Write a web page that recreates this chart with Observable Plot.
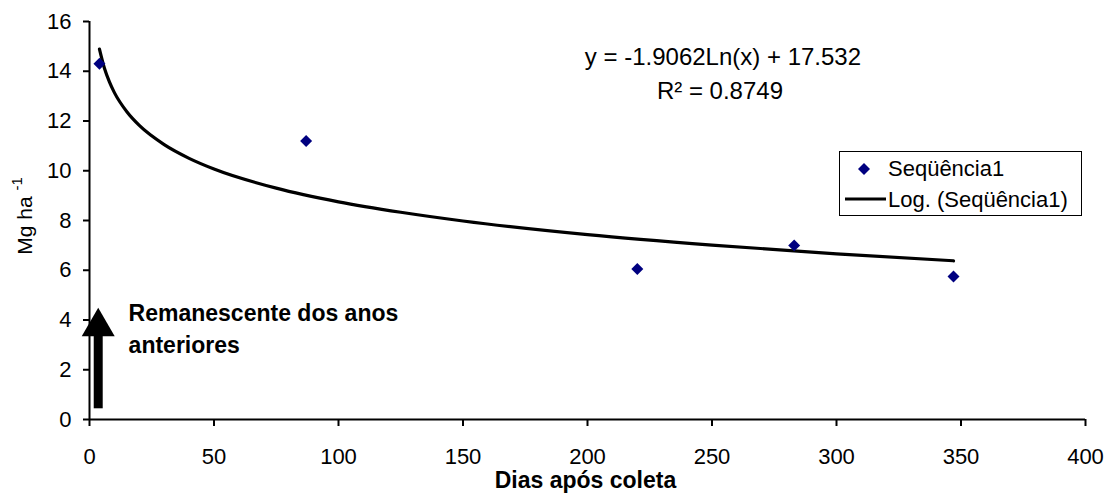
<!DOCTYPE html>
<html><head><meta charset="utf-8">
<script src="https://cdn.jsdelivr.net/npm/d3@7"></script>
<script src="https://cdn.jsdelivr.net/npm/@observablehq/plot@0.6"></script>
<style>
body{margin:0;background:#fff;}
#wrap{position:relative;width:1106px;height:500px;font-family:"Liberation Sans",Arial,sans-serif;color:#000;}
#wrap svg{display:block;}
.legend{position:absolute;left:839px;top:151px;width:243px;height:65px;border:1.5px solid #000;box-sizing:border-box;background:#fff;font-size:22px;}
.legend .item{position:absolute;left:48px;white-space:nowrap;line-height:1;}
.legend svg{position:absolute;left:0;}
</style></head><body><div id="wrap"></div>
<script>
// Observed points
const days = [4, 87, 220, 283, 347];
const mass = [14.3, 11.2, 6.05, 7.0, 5.75];
// Trend line
const trendDays = [4, 6, 8, 10, 15, 20, 30, 40, 50, 75, 100, 125, 150, 200, 250, 300, 347];
const trendMass = [14.89, 14.12, 13.57, 13.14, 12.37, 11.82, 11.05, 10.50, 10.07, 9.30, 8.75, 8.33, 7.98, 7.43, 7.01, 6.66, 6.38];
// Ticks
const xTicks = [0, 50, 100, 150, 200, 250, 300, 350, 400];
const yTicks = [0, 2, 4, 6, 8, 10, 12, 14, 16];
// Texts
const seriesName = "Seqüência1";
const trendName = "Log. (Seqüência1)";
const equationText = "y = -1.9062Ln(x) + 17.532";
const r2Text = "R² = 0.8749";
const xLabel = "Dias após coleta";
const yLabelMain = "Mg ha";
const yLabelSup = "-1";
const noteLines = ["Remanescente dos anos", "anteriores"];

const points = days.map((d, i) => ({d, m: mass[i]}));
const trend = trendDays.map((d, i) => ({d, m: trendMass[i]}));
const notes = noteLines.map((t, i) => ({t, i}));

const font = '"Liberation Sans", Arial, sans-serif';
const chart = Plot.plot({
  width: 1106, height: 500,
  marginLeft: 89, marginRight: 21, marginTop: 21, marginBottom: 81,
  style: {fontFamily: font, fontSize: "22px", color: "#000", background: "#fff", overflow: "visible"},
  x: {domain: [0, 400], label: null},
  y: {domain: [0, 16], label: null},
  marks: [
    Plot.axisX({ticks: xTicks, tickSize: 7, tickPadding: 22, strokeWidth: 2, label: null, tickFormat: d => String(d)}),
    Plot.axisY({ticks: yTicks, tickSize: 6, tickPadding: 12, strokeWidth: 2, label: null, tickFormat: d => String(d)}),
    Plot.ruleX([0], {strokeWidth: 2, stroke: "#000"}),
    Plot.ruleY([0], {strokeWidth: 2, stroke: "#000"}),
    Plot.line(trend, {x: "d", y: "m", stroke: "#000", strokeWidth: 3.2, curve: "monotone-x"}),
    Plot.dot(points, {x: "d", y: "m", symbol: "diamond2", r: 5.4, fill: "#000080", stroke: null}),
    // arrow annotation
    Plot.ruleX([3.5], {y1: 0.43, y2: 3.8, strokeWidth: 9, stroke: "#000"}),
    Plot.dot([3.5], {x: d => d, y: 3.73, symbol: "triangle", r: 12.25, fill: "#000", stroke: null}),
    Plot.text(notes, {x: 15.7, y: d => d.i === 0 ? 4.25 : 2.95, text: "t", textAnchor: "start", fontWeight: "bold", fontSize: 23, fill: "#000"}),
    Plot.text([equationText], {x: 254.4, y: 14.57, text: d => d, fontSize: 24, fill: "#000"}),
    Plot.text([r2Text], {x: 253.2, y: 13.18, text: d => d, fontSize: 24, fill: "#000"})
  ]
});

document.getElementById("wrap").appendChild(chart);
const svg = d3.select(chart);
// x label
svg.append("text")
  .attr("x", 585.5).attr("y", 488)
  .attr("text-anchor", "middle")
  .attr("font-family", font).attr("font-weight", "bold").attr("font-size", 23)
  .attr("fill", "#000")
  .text(xLabel);
// y label with superscript
const yl = svg.append("text")
  .attr("transform", "translate(32,216) rotate(-90)")
  .attr("text-anchor", "middle")
  .attr("font-family", font).attr("font-size", 21).attr("fill", "#000");
yl.append("tspan").text(yLabelMain + " ");
yl.append("tspan").attr("font-size", 15).attr("dy", -10).text(yLabelSup);

// legend
const lg = d3.select("#wrap").append("div").attr("class", "legend");
const s1 = lg.append("svg").attr("width", 48).attr("height", 32).style("top", "1px");
s1.append("path").attr("d", d3.symbol(d3.symbolDiamond2, Math.PI * 5.4 * 5.4)()).attr("transform", "translate(24,16)").attr("fill", "#000080");
lg.append("div").attr("class", "item").style("top", "6px").text(seriesName);
const s2 = lg.append("svg").attr("width", 48).attr("height", 32).style("top", "31px");
s2.append("line").attr("x1", 5).attr("x2", 46).attr("y1", 16).attr("y2", 16).attr("stroke", "#000").attr("stroke-width", 3.2);
lg.append("div").attr("class", "item").style("top", "37px").text(trendName);
</script>
</body></html>
